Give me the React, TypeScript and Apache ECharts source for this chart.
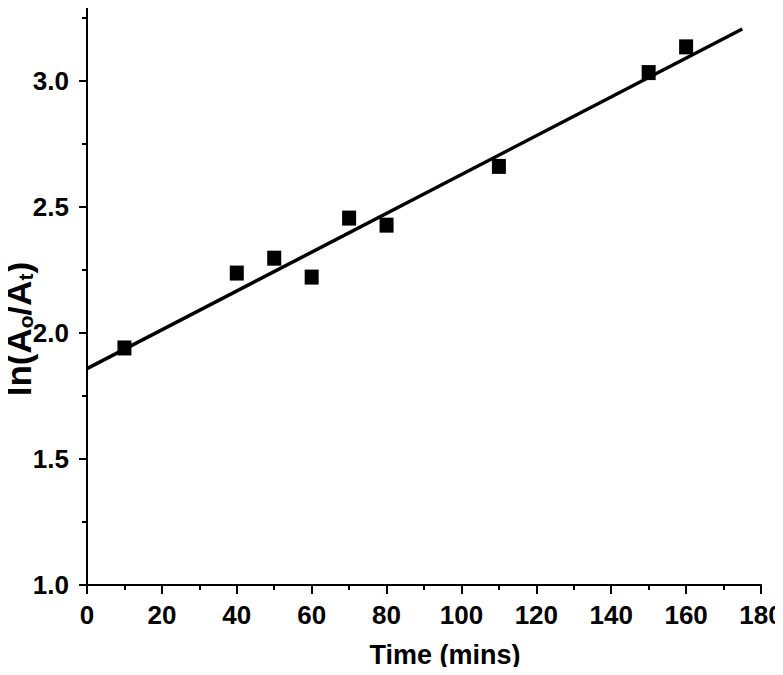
import React, { useEffect, useRef } from "react";
import * as echarts from "echarts";

const timeMins = [10, 40, 50, 60, 70, 80, 110, 150, 160];
const lnRatio = [1.94, 2.237, 2.296, 2.221, 2.455, 2.427, 2.66, 3.032, 3.134];
const fitX = [0, 175];
const fitY = [1.858, 3.205];
const yMajorTicks = [1.0, 1.5, 2.0, 2.5, 3.0];
const yMinorTicks = [1.25, 1.75, 2.25, 2.75, 3.25];

const FONT = '"Liberation Sans", Arial, sans-serif';

export default function App() {
  const ref = useRef<HTMLDivElement>(null);
  useEffect(() => {
    if (!ref.current) return;
    const chart = echarts.init(ref.current, undefined, { renderer: "svg" });
    const axisLine = { show: true, lineStyle: { color: "#000", width: 2 } };
    chart.setOption({
      animation: false,
      backgroundColor: "#fff",
      grid: { left: 87, right: 22, top: 5, bottom: 90, containLabel: false, outerBoundsMode: "none" },
      graphic: [
        {
          type: "text",
          x: 18,
          y: 329,
          rotation: Math.PI / 2,
          style: {
            text: "{b|ln(A}{s|o}{b|/A}{s|t}{b|)}",
            align: "center",
            verticalAlign: "middle",
            rich: {
              b: { fontFamily: FONT, fontWeight: "bold", fontSize: 35, fill: "#000", lineHeight: 36 },
              s: {
                fontFamily: FONT,
                fontWeight: "bold",
                fontSize: 21,
                fill: "#000",
                lineHeight: 20,
                verticalAlign: "bottom",
              },
            },
          },
        },
      ],
      xAxis: {
        type: "value",
        min: 0,
        max: 180,
        interval: 20,
        name: "Time (mins)",
        nameLocation: "middle",
        nameGap: 56,
        nameTextStyle: {
          fontFamily: FONT,
          fontWeight: "bold",
          fontSize: 27,
          color: "#000",
          padding: [0, 0, 0, 42],
        },
        axisLine,
        axisTick: { show: true, length: 9, lineStyle: { color: "#000", width: 2 } },
        minorTick: { show: true, splitNumber: 2, length: 5, lineStyle: { color: "#000", width: 2 } },
        axisLabel: {
          fontFamily: FONT,
          fontWeight: "bold",
          fontSize: 26,
          color: "#000",
          margin: 17,
        },
        splitLine: { show: false },
      },
      yAxis: [
        {
          type: "value",
          min: 1.0,
          max: 3.3,
          position: "left",
          axisLine,
          axisTick: {
            show: true,
            length: 8,
            customValues: yMajorTicks,
            lineStyle: { color: "#000", width: 2 },
          },
          axisLabel: {
            fontFamily: FONT,
            fontWeight: "bold",
            fontSize: 26,
            color: "#000",
            margin: 18,
            customValues: yMajorTicks,
            formatter: (v: number) => v.toFixed(1),
          },
          splitLine: { show: false },
        },
        {
          type: "value",
          min: 1.0,
          max: 3.3,
          position: "left",
          axisLine: { show: false },
          axisTick: {
            show: true,
            length: 5,
            customValues: yMinorTicks,
            lineStyle: { color: "#000", width: 2 },
          },
          axisLabel: { show: false },
          splitLine: { show: false },
        },
      ],
      series: [
        {
          type: "line",
          data: fitX.map((x, i) => [x, fitY[i]]),
          showSymbol: false,
          symbol: "none",
          lineStyle: { color: "#000", width: 3.5 },
          silent: true,
          z: 2,
        },
        {
          type: "scatter",
          data: timeMins.map((x, i) => [x, lnRatio[i]]),
          symbol: "rect",
          symbolSize: [14, 15],
          itemStyle: { color: "#000", opacity: 1 },
          z: 3,
        },
      ],
    });
    return () => chart.dispose();
  }, []);
  return <div ref={ref} style={{ width: 783, height: 675, margin: -8 }} />;
}
